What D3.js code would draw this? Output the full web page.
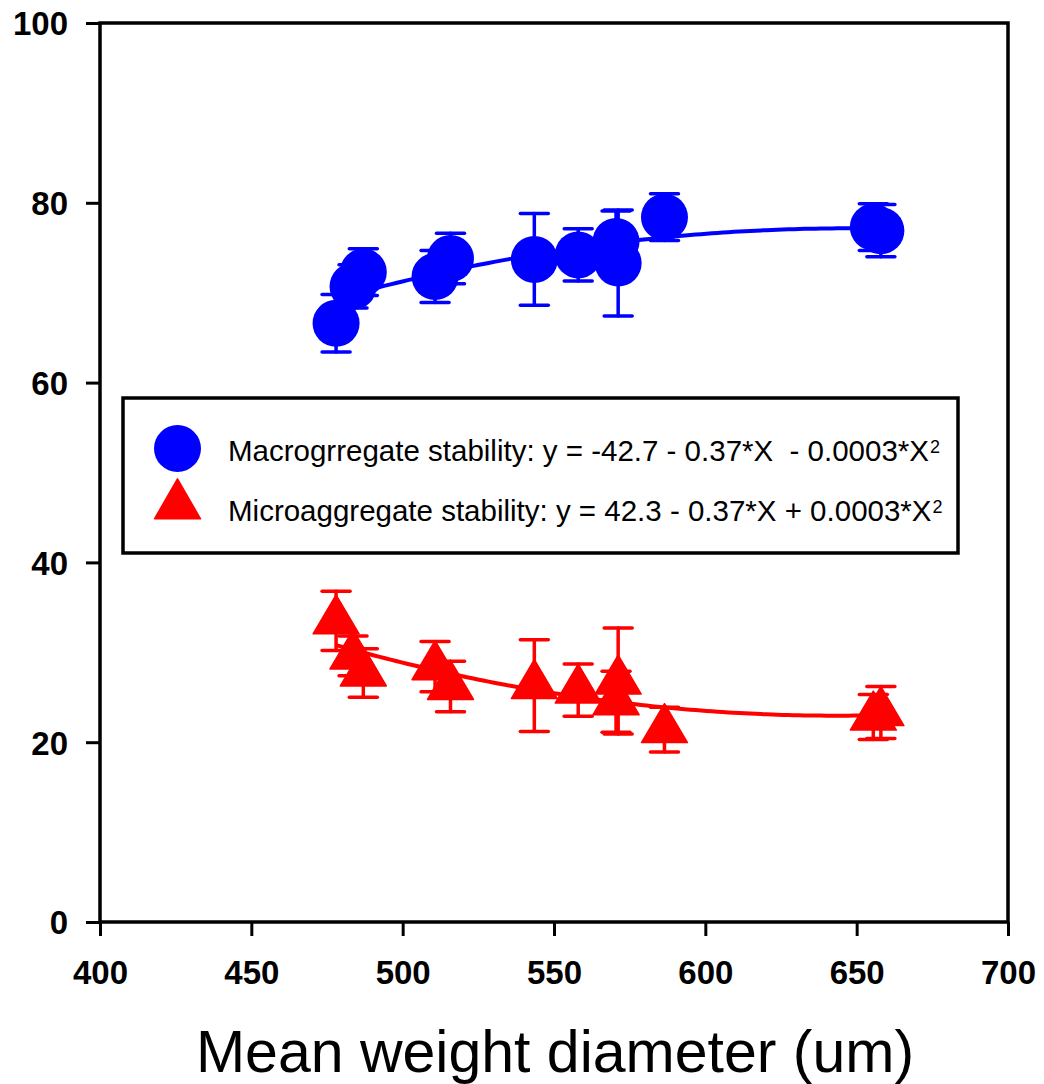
<!DOCTYPE html>
<html>
<head>
<meta charset="utf-8">
<script src="https://cdn.jsdelivr.net/npm/d3@7"></script>
<style>
  html, body { margin: 0; padding: 0; background: #fff; }
  svg { display: block; font-family: "Liberation Sans", Arial, sans-serif; }
</style>
</head>
<body>
<svg id="chart" width="1044" height="1084"></svg>
<script>
// mean weight diameter (um), one entry per sample
const mwd = [478, 483.6, 487, 510.7, 515.8, 543.5, 558, 570.5, 571.2, 586.5, 655.5, 658];
// macroaggregate stability (%) and its error
const macroMean = [66.6, 70.7, 72.3, 71.8, 73.8, 73.7, 74.2, 75.7, 73.3, 78.4, 77.3, 76.9];
const macroErr = [3.2, 2.4, 2.6, 2.9, 2.8, 5.1, 2.9, 3.4, 5.9, 2.6, 2.6, 2.9];
// microaggregate stability (%) and its error
const microMean = [33.5, 29.6, 27.7, 28.4, 26.2, 26.3, 25.8, 24.5, 26.8, 21.4, 22.8, 23.3];
const microErr = [3.3, 2.2, 2.7, 2.8, 2.8, 5.1, 2.9, 3.4, 5.9, 2.5, 2.5, 2.9];

const xTicks = [400, 450, 500, 550, 600, 650, 700];
const yTicks = [0, 20, 40, 60, 80, 100];
const legendLabels = [
  "Macrogrregate stability: y = -42.7 - 0.37*X  - 0.0003*X",
  "Microaggregate stability: y = 42.3 - 0.37*X + 0.0003*X"
];

const svg = d3.select("#chart");
const plotL = 100, plotR = 1008, plotT = 23, plotB = 922;

const x = d3.scaleLinear().domain([400, 700]).range([plotL, plotR]);
const y = d3.scaleLinear().domain([0, 100]).range([plotB, plotT]);

// quadratic least squares fit y = a + b*x + c*x^2
function quadFit(xs, ys) {
  const n = xs.length;
  let s = [0, 0, 0, 0, 0], t = [0, 0, 0];
  for (let i = 0; i < n; i++) {
    let p = 1;
    for (let k = 0; k < 5; k++) { s[k] += p; if (k < 3) t[k] += p * ys[i]; p *= xs[i]; }
  }
  const A = [[s[0], s[1], s[2], t[0]], [s[1], s[2], s[3], t[1]], [s[2], s[3], s[4], t[2]]];
  for (let i = 0; i < 3; i++) {
    for (let j = i + 1; j < 3; j++) {
      const f = A[j][i] / A[i][i];
      for (let k = i; k < 4; k++) A[j][k] -= f * A[i][k];
    }
  }
  const c = [0, 0, 0];
  for (let i = 2; i >= 0; i--) {
    let v = A[i][3];
    for (let k = i + 1; k < 3; k++) v -= A[i][k] * c[k];
    c[i] = v / A[i][i];
  }
  return c;
}

function trianglePath(w, h) {
  return "M0," + (-2 * h / 3) + "L" + (w / 2) + "," + (h / 3) + "L" + (-w / 2) + "," + (h / 3) + "Z";
}

const series = [
  { mean: macroMean, err: macroErr, color: "#0000ff", shape: "circle" },
  { mean: microMean, err: microErr, color: "#ff0000", shape: "triangle" }
];

// fitted curves, sampled between the smallest and largest MWD (centred x keeps it stable)
const xMin = d3.min(mwd), xMax = d3.max(mwd);
const x0 = d3.mean(mwd);
series.forEach(s => {
  const co = quadFit(mwd.map(v => v - x0), s.mean);
  const pts = d3.range(0, 101).map(i => {
    const xv = xMin + (xMax - xMin) * i / 100;
    const u = xv - x0;
    return [xv, co[0] + co[1] * u + co[2] * u * u];
  });
  svg.append("path")
    .datum(pts)
    .attr("fill", "none")
    .attr("stroke", s.color)
    .attr("stroke-width", 4)
    .attr("d", d3.line().x(d => x(d[0])).y(d => y(d[1])));
});

// error bars + markers
series.forEach(s => {
  const g = svg.append("g");
  const rows = mwd.map((v, i) => ({ x: v, m: s.mean[i], e: s.err[i] }));
  const eb = g.selectAll("g.eb").data(rows).enter().append("g")
    .attr("stroke", s.color).attr("stroke-width", 3.5).attr("stroke-linecap", "round");
  eb.append("line")
    .attr("x1", d => x(d.x)).attr("x2", d => x(d.x))
    .attr("y1", d => y(d.m - d.e)).attr("y2", d => y(d.m + d.e));
  eb.append("line")
    .attr("x1", d => x(d.x) - 14).attr("x2", d => x(d.x) + 14)
    .attr("y1", d => y(d.m + d.e)).attr("y2", d => y(d.m + d.e));
  eb.append("line")
    .attr("x1", d => x(d.x) - 14).attr("x2", d => x(d.x) + 14)
    .attr("y1", d => y(d.m - d.e)).attr("y2", d => y(d.m - d.e));

  if (s.shape === "circle") {
    g.selectAll("circle").data(rows).enter().append("circle")
      .attr("cx", d => x(d.x)).attr("cy", d => y(d.m)).attr("r", 23.5)
      .attr("fill", s.color);
  } else {
    g.selectAll("path.tri").data(rows).enter().append("path")
      .attr("class", "tri")
      .attr("transform", d => "translate(" + x(d.x) + "," + y(d.m) + ")")
      .attr("d", trianglePath(46, 39))
      .attr("fill", s.color).attr("stroke", s.color)
      .attr("stroke-width", 1.5).attr("stroke-linejoin", "round");
  }
});

// frame
svg.append("rect")
  .attr("x", plotL).attr("y", plotT)
  .attr("width", plotR - plotL).attr("height", plotB - plotT)
  .attr("fill", "none").attr("stroke", "#000").attr("stroke-width", 3.5);

// axes
const xAxis = svg.append("g")
  .attr("transform", "translate(0," + plotB + ")")
  .call(d3.axisBottom(x).tickValues(xTicks).tickSize(14).tickPadding(25).tickFormat(d3.format("d")));
const yAxis = svg.append("g")
  .attr("transform", "translate(" + plotL + ",0)")
  .call(d3.axisLeft(y).tickValues(yTicks).tickSize(14).tickPadding(18).tickFormat(d3.format("d")));

[xAxis, yAxis].forEach(a => {
  a.select(".domain").remove();
  a.selectAll(".tick line").attr("stroke", "#000").attr("stroke-width", 3);
  a.selectAll(".tick text")
    .attr("fill", "#000")
    .attr("font-family", "'Liberation Sans', Arial, sans-serif")
    .attr("font-size", 33)
    .attr("font-weight", "bold");
});
yAxis.selectAll(".tick text").attr("dy", "0.36em");

// axis title
svg.append("text")
  .attr("x", (plotL + plotR) / 2 + 1)
  .attr("y", 1072)
  .attr("text-anchor", "middle")
  .attr("font-size", 59)
  .attr("fill", "#000")
  .text("Mean weight diameter (um)");

// legend
const lg = svg.append("g");
lg.append("rect")
  .attr("x", 123).attr("y", 398)
  .attr("width", 835).attr("height", 155)
  .attr("fill", "#fff").attr("stroke", "#000").attr("stroke-width", 3.5);

series.forEach((s, i) => {
  const cy = 448.5 + i * 53;
  if (s.shape === "circle") {
    lg.append("circle").attr("cx", 177.5).attr("cy", cy).attr("r", 23.5).attr("fill", s.color);
  } else {
    lg.append("path")
      .attr("transform", "translate(177.5," + (cy + 4) + ")")
      .attr("d", trianglePath(46, 40))
      .attr("fill", s.color).attr("stroke", s.color)
      .attr("stroke-width", 1.5).attr("stroke-linejoin", "round");
  }
  const t = lg.append("text")
    .attr("x", 228).attr("y", 461 + i * 59.5)
    .attr("font-size", 29.5)
    .attr("fill", "#000")
    .style("white-space", "pre");
  t.append("tspan").text(legendLabels[i]);
  t.append("tspan").attr("dx", 1).attr("dy", -8).attr("font-size", 18).text("2");
});
</script>
</body>
</html>
